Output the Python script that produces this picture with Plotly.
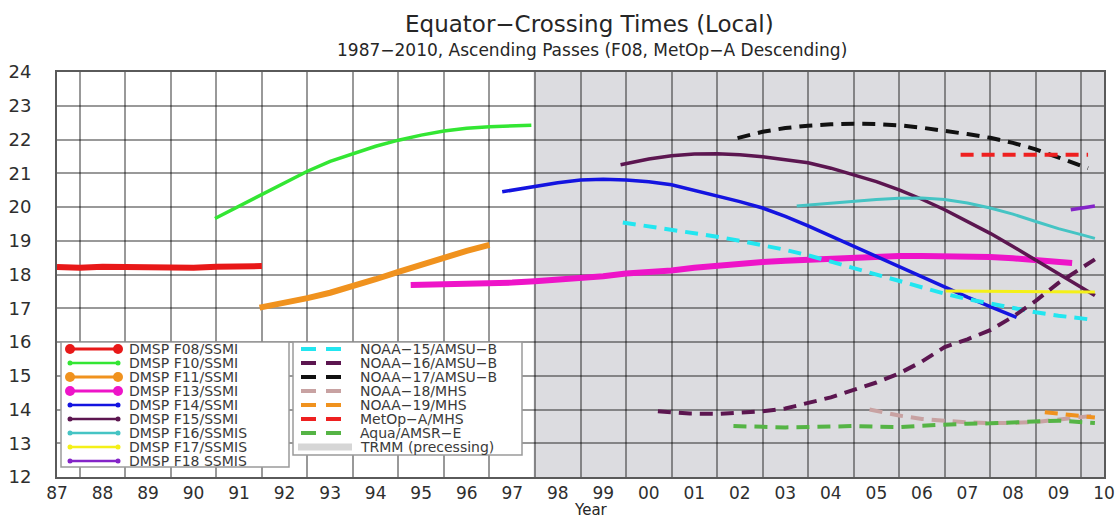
import plotly.graph_objects as go

# ---------------- data ----------------
years = list(range(1987, 2011))
year_labels = ["87", "88", "89", "90", "91", "92", "93", "94", "95", "96", "97", "98",
               "99", "00", "01", "02", "03", "04", "05", "06", "07", "08", "09", "10"]
hour_ticks = list(range(12, 25))

f08_x = [1987.0, 1987.5, 1988.0, 1988.5, 1989.0, 1989.5, 1990.0, 1990.5, 1991.0, 1991.5]
f08_y = [18.22, 18.2, 18.23, 18.22, 18.25, 18.22, 18.2, 18.23, 18.22, 18.25]

f10_x = [1990.47, 1991.0, 1991.5, 1992.0, 1992.5, 1993.0, 1993.5, 1994.0, 1994.5, 1995.0,
         1995.5, 1996.0, 1996.5, 1997.0, 1997.42]
f10_y = [19.66, 20.02, 20.36, 20.72, 21.06, 21.35, 21.58, 21.8, 21.98, 22.13,
         22.25, 22.33, 22.38, 22.41, 22.42]

f11_x = [1991.45, 1992.0, 1992.5, 1993.0, 1993.5, 1994.0, 1994.5, 1995.0, 1995.5, 1996.0, 1996.5]
f11_y = [17.02, 17.15, 17.3, 17.46, 17.65, 17.86, 18.08, 18.3, 18.5, 18.7, 18.88]

f13_x = [1994.77, 1995.5, 1996.0, 1996.5, 1997.0, 1997.5, 1998.0, 1998.5, 1999.0, 1999.5,
         2000.0, 2000.5, 2001.0, 2001.5, 2002.0, 2002.5, 2003.0, 2003.5, 2004.0, 2004.5,
         2005.0, 2005.5, 2006.0, 2006.5, 2007.0, 2007.5, 2008.0, 2008.5, 2009.0, 2009.3]
f13_y = [17.69, 17.7, 17.72, 17.74, 17.76, 17.8, 17.84, 17.88, 17.95, 18.03,
         18.07, 18.12, 18.2, 18.27, 18.32, 18.37, 18.41, 18.44, 18.48, 18.52,
         18.54, 18.55, 18.55, 18.55, 18.54, 18.52, 18.48, 18.42, 18.37, 18.34]

f14_x = [1996.78, 1997.0, 1997.5, 1998.0, 1998.5, 1999.0, 1999.5, 2000.0, 2000.5, 2001.0,
         2001.5, 2002.0, 2002.5, 2003.0, 2003.5, 2004.0, 2004.5, 2005.0, 2005.5, 2006.0,
         2006.5, 2007.0, 2007.5, 2008.08]
f14_y = [20.45, 20.5, 20.6, 20.72, 20.8, 20.82, 20.8, 20.75, 20.66, 20.5,
         20.33, 20.16, 19.97, 19.72, 19.44, 19.14, 18.83, 18.52, 18.22, 17.92,
         17.62, 17.33, 17.05, 16.73]

f15_x = [1999.38, 2000.0, 2000.5, 2001.0, 2001.5, 2002.0, 2002.5, 2003.0, 2003.5, 2004.0,
         2004.5, 2005.0, 2005.5, 2006.0, 2006.5, 2007.0, 2007.5, 2008.0, 2008.5, 2009.0,
         2009.5, 2009.8]
f15_y = [21.25, 21.42, 21.52, 21.57, 21.58, 21.55, 21.49, 21.41, 21.31, 21.15,
         20.96, 20.75, 20.51, 20.23, 19.92, 19.58, 19.22, 18.83, 18.42, 18.02,
         17.62, 17.38]

f16_x = [2003.25, 2003.5, 2004.0, 2004.5, 2005.0, 2005.5, 2006.0, 2006.5, 2007.0, 2007.5,
         2008.0, 2008.5, 2009.0, 2009.5, 2009.8]
f16_y = [20.03, 20.06, 20.11, 20.16, 20.22, 20.26, 20.27, 20.22, 20.12, 19.97,
         19.79, 19.57, 19.36, 19.18, 19.07]

f17_x = [2006.52, 2007.5, 2008.5, 2009.8]
f17_y = [17.51, 17.5, 17.49, 17.48]

f18_x = [2009.27, 2009.8]
f18_y = [19.92, 20.03]

n15_x = [1999.43, 2000.0, 2000.5, 2001.0, 2001.5, 2002.0, 2002.5, 2003.0, 2003.5, 2004.0,
         2004.5, 2005.0, 2005.5, 2006.0, 2006.5, 2007.0, 2007.5, 2008.0, 2008.5, 2009.0, 2009.8]
n15_y = [19.54, 19.43, 19.32, 19.22, 19.12, 19.0, 18.87, 18.73, 18.57, 18.38,
         18.17, 17.97, 17.78, 17.6, 17.43, 17.27, 17.13, 17.0, 16.88, 16.78, 16.65]

n16_x = [2000.2, 2000.9, 2001.5, 2002.0, 2002.5, 2003.0, 2003.5, 2004.0, 2004.5, 2005.0,
         2005.5, 2006.0, 2006.5, 2007.0, 2007.5, 2008.0, 2008.5, 2009.0, 2009.8]
n16_y = [13.95, 13.88, 13.87, 13.9, 13.95, 14.03, 14.18, 14.36, 14.58, 14.8,
         15.07, 15.42, 15.85, 16.08, 16.35, 16.75, 17.22, 17.75, 18.45]

n17_x = [2001.95, 2002.5, 2003.0, 2003.5, 2004.0, 2004.5, 2005.0, 2005.5, 2006.0, 2006.5,
         2007.0, 2007.5, 2008.0, 2008.5, 2009.0, 2009.65]
n17_y = [22.04, 22.23, 22.34, 22.41, 22.45, 22.47, 22.46, 22.42, 22.35, 22.26,
         22.16, 22.05, 21.9, 21.71, 21.47, 21.15]

n18_x = [2004.85, 2005.5, 2006.0, 2006.5, 2007.0, 2007.5, 2008.0, 2008.5, 2009.0, 2009.8]
n18_y = [14.0, 13.82, 13.72, 13.66, 13.62, 13.6, 13.6, 13.63, 13.7, 13.82]

n19_x = [2008.7, 2009.2, 2009.8]
n19_y = [13.92, 13.84, 13.76]

metop_x = [2006.85, 2007.5, 2008.5, 2009.65]
metop_y = [21.55, 21.55, 21.56, 21.55]

aqua_x = [2001.86, 2002.5, 2003.0, 2003.5, 2004.0, 2004.5, 2005.0, 2005.5, 2006.0, 2006.5,
          2007.0, 2007.5, 2008.0, 2008.5, 2009.0, 2009.8]
aqua_y = [13.51, 13.48, 13.47, 13.48, 13.5, 13.51, 13.49, 13.48, 13.52, 13.56,
          13.58, 13.59, 13.61, 13.64, 13.67, 13.6]

trmm_start = 1997.47
trmm_end = 2010.0

dmsp_names = ["DMSP F08/SSMI", "DMSP F10/SSMI", "DMSP F11/SSMI", "DMSP F13/SSMI",
              "DMSP F14/SSMI", "DMSP F15/SSMI", "DMSP F16/SSMIS", "DMSP F17/SSMIS",
              "DMSP F18 SSMIS"]
dmsp_colors = ["#e81818", "#33e633", "#f0921e", "#ee14c8", "#1414e0", "#5c1650",
               "#45c4c4", "#f4f018", "#8424c8"]
dmsp_widths = [6, 3.5, 6, 6, 3.5, 3.5, 3, 3, 3.5]
dmsp_bigdot = [True, False, True, True, False, False, False, False, False]
dmsp_x = [f08_x, f10_x, f11_x, f13_x, f14_x, f15_x, f16_x, f17_x, f18_x]
dmsp_y = [f08_y, f10_y, f11_y, f13_y, f14_y, f15_y, f16_y, f17_y, f18_y]

other_names = ["NOAA−15/AMSU−B", "NOAA−16/AMSU−B", "NOAA−17/AMSU−B", "NOAA−18/MHS",
               "NOAA−19/MHS", "MetOp−A/MHS", "Aqua/AMSR−E"]
other_colors = ["#22e6f0", "#5c1650", "#111111", "#c8a2a2", "#f0921e", "#ee2020", "#55b445"]
other_x = [n15_x, n16_x, n17_x, n18_x, n19_x, metop_x, aqua_x]
other_y = [n15_y, n16_y, n17_y, n18_y, n19_y, metop_y, aqua_y]
trmm_name = "TRMM (precessing)"
trmm_color = "#dcdce0"
trmm_legend_color = "#d6d6d6"

# ---------------- layout geometry (pixels) ----------------
FIG_W, FIG_H = 1119, 520
L, R, T, B = 57, 1104, 72, 477
PW, PH = R - L, B - T


def px_x(px):
    return (px - L) / PW


def px_y(py):
    return (B - py) / PH


FONT = "DejaVu Sans"
GRID = "rgba(0,0,0,0.4)"

fig = go.Figure()

for xs, ys, c, w in zip(dmsp_x, dmsp_y, dmsp_colors, dmsp_widths):
    fig.add_trace(go.Scatter(x=xs, y=ys, mode="lines", line=dict(color=c, width=w),
                             showlegend=False, hoverinfo="skip"))
for xs, ys, c in zip(other_x, other_y, other_colors):
    fig.add_trace(go.Scatter(x=xs, y=ys, mode="lines",
                             line=dict(color=c, width=4, dash="13px,8px"),
                             showlegend=False, hoverinfo="skip"))

shapes = []
# TRMM shaded period
shapes.append(dict(type="rect", xref="x", yref="y", x0=trmm_start, x1=trmm_end,
                   y0=hour_ticks[0], y1=hour_ticks[-1], fillcolor=trmm_color,
                   line=dict(width=0), layer="below"))

# ---- legend boxes ----
shapes.append(dict(type="rect", xref="paper", yref="paper", x0=px_x(61), x1=px_x(289),
                   y0=px_y(467), y1=px_y(342), fillcolor="white",
                   line=dict(color="#9a9a9a", width=1.5), layer="above"))
shapes.append(dict(type="rect", xref="paper", yref="paper", x0=px_x(293), x1=px_x(522),
                   y0=px_y(455), y1=px_y(342), fillcolor="white",
                   line=dict(color="#9a9a9a", width=1.5), layer="above"))

annotations = []
ROW0, ROWH = 349, 14
LEG_FONT = dict(family=FONT, size=14, color="#3a3a3a")

for i, (name, c, big) in enumerate(zip(dmsp_names, dmsp_colors, dmsp_bigdot)):
    py = ROW0 + ROWH * i
    lw = 3 if big else 2.5
    shapes.append(dict(type="line", xref="paper", yref="paper", x0=px_x(70), x1=px_x(118),
                       y0=px_y(py), y1=px_y(py), line=dict(color=c, width=lw), layer="above"))
    r = 5 if big else 2.5
    for cx in (70, 118):
        shapes.append(dict(type="circle", xref="paper", yref="paper",
                           xsizemode="pixel", ysizemode="pixel",
                           xanchor=px_x(cx), yanchor=px_y(py),
                           x0=-r, x1=r, y0=-r, y1=r, fillcolor=c,
                           line=dict(width=0), layer="above"))
    annotations.append(dict(xref="paper", yref="paper", x=px_x(127), y=px_y(py),
                            xanchor="left", yanchor="middle", showarrow=False,
                            text=name, font=LEG_FONT))

for i, (name, c) in enumerate(zip(other_names, other_colors)):
    py = ROW0 + ROWH * i
    shapes.append(dict(type="line", xref="paper", yref="paper", x0=px_x(301), x1=px_x(343),
                       y0=px_y(py), y1=px_y(py),
                       line=dict(color=c, width=4, dash="15px,10px"), layer="above"))
    annotations.append(dict(xref="paper", yref="paper", x=px_x(358), y=px_y(py),
                            xanchor="left", yanchor="middle", showarrow=False,
                            text=name, font=LEG_FONT))
py = ROW0 + ROWH * len(other_names)
shapes.append(dict(type="line", xref="paper", yref="paper", x0=px_x(298), x1=px_x(352),
                   y0=px_y(py), y1=px_y(py),
                   line=dict(color=trmm_legend_color, width=7), layer="above"))
annotations.append(dict(xref="paper", yref="paper", x=px_x(358), y=px_y(py),
                        xanchor="left", yanchor="middle", showarrow=False,
                        text=trmm_name, font=LEG_FONT))

# titles
annotations.append(dict(xref="paper", yref="paper", x=px_x(590), y=px_y(24),
                        xanchor="center", yanchor="middle", showarrow=False,
                        text="Equator−Crossing Times (Local)",
                        font=dict(family=FONT, size=23, color="#262626")))
annotations.append(dict(xref="paper", yref="paper", x=px_x(592), y=px_y(50),
                        xanchor="center", yanchor="middle", showarrow=False,
                        text="1987−2010, Ascending Passes (F08, MetOp−A Descending)",
                        font=dict(family=FONT, size=17, color="#262626")))
annotations.append(dict(xref="paper", yref="paper", x=px_x(591), y=px_y(520),
                        xanchor="center", yanchor="bottom", showarrow=False, borderpad=0,
                        text="Year", font=dict(family=FONT, size=15, color="#262626")))

half_years = [y + 0.5 for y in years[:-1]]

fig.update_layout(
    width=FIG_W, height=FIG_H,
    margin=dict(l=L, r=FIG_W - R, t=T, b=FIG_H - B, autoexpand=False),
    paper_bgcolor="white", plot_bgcolor="white",
    shapes=shapes, annotations=annotations,
    showlegend=False,
    xaxis=dict(range=[years[0], years[-1]], tickmode="array", tickvals=years,
               ticktext=year_labels, showgrid=False, zeroline=False,
               showline=True, mirror=True, linecolor="#5a5a5a", linewidth=2,
               ticks="", ticklabelstandoff=0,
               tickfont=dict(family=FONT, size=17, color="#2e2e2e"),
               minor=dict(tickmode="array", tickvals=half_years, showgrid=True,
                          gridcolor=GRID, gridwidth=1.5, ticks="")),
    yaxis=dict(range=[hour_ticks[0], hour_ticks[-1]], tickmode="array", tickvals=hour_ticks,
               ticktext=[str(h) for h in hour_ticks], showgrid=True, gridcolor=GRID,
               gridwidth=1.5, zeroline=False, showline=True, mirror=True,
               linecolor="#5a5a5a", linewidth=2, ticks="", ticklabelstandoff=20,
               tickfont=dict(family=FONT, size=18, color="#2e2e2e")),
)

fig.write_html("out.html", config={"displayModeBar": False},
               post_script="document.body.style.margin='0';")
